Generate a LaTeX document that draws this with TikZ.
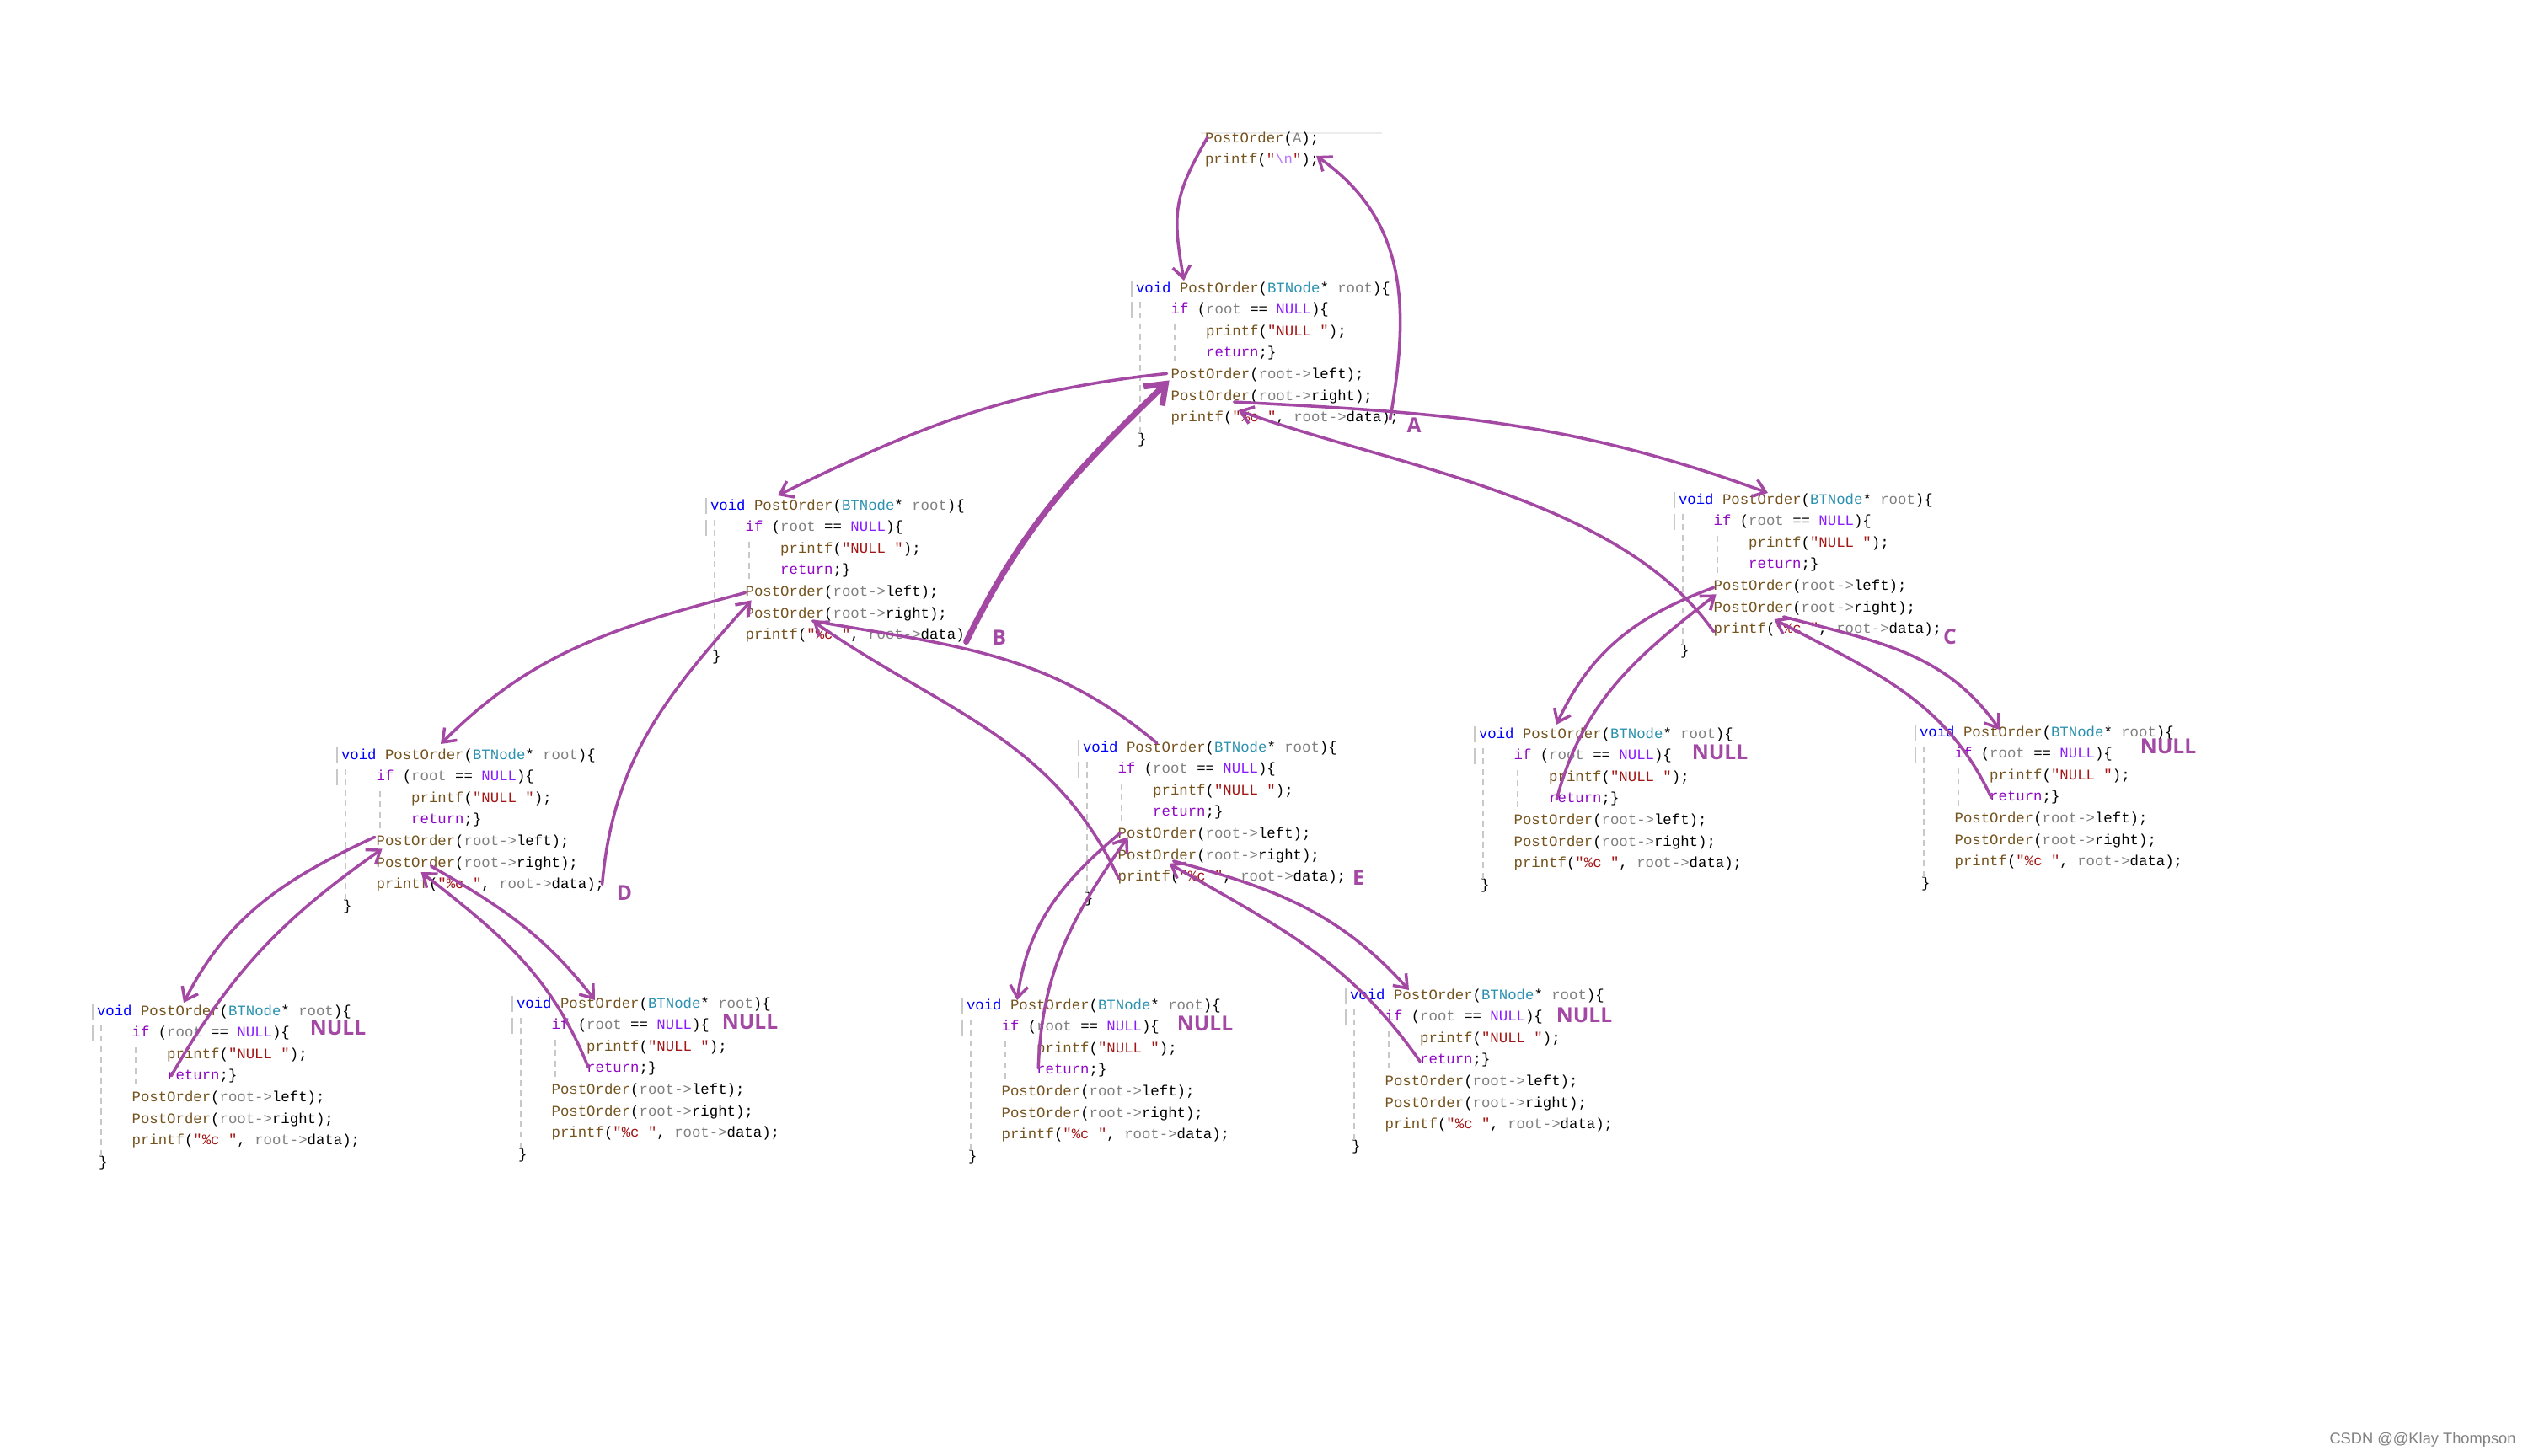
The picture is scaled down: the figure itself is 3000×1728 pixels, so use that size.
\documentclass[tikz,border=0pt]{standalone}
\usepackage{fontspec}
\newfontfamily\codefont{Liberation Mono}
\newfontfamily\markfont{Open Sans}
\newfontfamily\wmfont{Liberation Sans}
\usetikzlibrary{arrows.meta,calc}

\definecolor{kwblue}{HTML}{0000FF}
\definecolor{fnbrown}{HTML}{74531F}
\definecolor{tyteal}{HTML}{2B91AF}
\definecolor{pagrey}{HTML}{808080}
\definecolor{ctlpurple}{HTML}{8F08C4}
\definecolor{macviolet}{HTML}{8A1BFF}
\definecolor{strred}{HTML}{A31515}
\definecolor{escviolet}{HTML}{B776FB}
\definecolor{penpurple}{HTML}{A349A4}
\definecolor{guidegrey}{HTML}{C8C8C8}

\newcommand{\ckw}[1]{\textcolor{kwblue}{#1}}
\newcommand{\cfn}[1]{\textcolor{fnbrown}{#1}}
\newcommand{\cty}[1]{\textcolor{tyteal}{#1}}
\newcommand{\cpar}[1]{\textcolor{pagrey}{#1}}
\newcommand{\cctl}[1]{\textcolor{ctlpurple}{#1}}
\newcommand{\cmac}[1]{\textcolor{macviolet}{#1}}
\newcommand{\cstr}[1]{\textcolor{strred}{#1}}
\newcommand{\cesc}[1]{\textcolor{escviolet}{#1}}

% one copy of the function body, lines named #1-1 ... #1-8
\newcommand{\codeblock}[3]{%
  \node[codeline] (#1-1) at ({#2},{-#3}) {\ckw{void} \cfn{PostOrder}(\cty{BTNode}* \cpar{root})\{};
  \node[codeline] (#1-2) at ({#2+41.6},{-#3-25.6}) {\cctl{if} (\cpar{root} == \cmac{NULL})\{};
  \node[codeline] (#1-3) at ({#2+83.2},{-#3-51.2}) {\cfn{printf}(\cstr{"NULL "});};
  \node[codeline] (#1-4) at ({#2+83.2},{-#3-76.8}) {\cctl{return};\}};
  \node[codeline] (#1-5) at ({#2+41.6},{-#3-102.4}) {\cfn{PostOrder}(\cpar{root->}left);};
  \node[codeline] (#1-6) at ({#2+41.6},{-#3-128}) {\cfn{PostOrder}(\cpar{root->}right);};
  \node[codeline] (#1-7) at ({#2+41.6},{-#3-153.6}) {\cfn{printf}(\cstr{"\%c "}, \cpar{root->}data);};
  \node[codeline] (#1-8) at ({#2+2},{-#3-179.2}) {\}};
  \draw[guide] ({#2-5},{-#3+10}) -- ({#2-5},{-#3-9});
  \draw[guide] ({#2-5},{-#3-16}) -- ({#2-5},{-#3-35});
  \draw[guide, dash pattern=on 2pt off 1.5pt] ({#2+5},{-#3-16}) -- ({#2+5},{-#3-172});
  \draw[guide, dash pattern=on 2pt off 1.5pt] ({#2+46},{-#3-42}) -- ({#2+46},{-#3-88});
}

\begin{document}
\begin{tikzpicture}[x=0.01cm, y=0.01cm,
  >={Straight Barb[length=4pt,width=6pt]},
  codeline/.style={anchor=west, inner sep=0pt, outer sep=0pt,
    font=\codefont\fontsize{4.93pt}{6pt}\selectfont, text height=3.4pt, text depth=1.1pt},
  guide/.style={draw=guidegrey, line width=0.4pt},
  arr/.style={draw=penpurple, line width=1pt, line cap=round, line join=round, ->},
  penlabel/.style={text=penpurple, inner sep=0pt, font=\markfont\bfseries\fontsize{7pt}{8pt}\selectfont}]
\useasboundingbox (0,0) rectangle (3000,-1728);

% the call in main
\draw[gray!15, line width=0.4pt] (1425,-158) -- (1640,-158);
\node[codeline] (main-1) at (1430,-165) {\cfn{PostOrder}(\cpar{A});};
\node[codeline] (main-2) at (1430,-190) {\cfn{printf}(\cstr{"}\cesc{\textbackslash n}\cstr{"});};

% recursion tree
\codeblock{A}{1348}{343}
\codeblock{B}{843}{601}
\codeblock{C}{1992}{594}
\codeblock{D}{405}{897}
\codeblock{E}{1285}{888}
\codeblock{DL}{115}{1201}
\codeblock{DR}{613}{1192}
\codeblock{EL}{1147}{1194}
\codeblock{ER}{1602}{1182}
\codeblock{CL}{1755}{872}
\codeblock{CR}{2278}{870}

% labels
\node[penlabel] (labA) at (1678,-505) {A};
\node[penlabel] (labB) at (1186,-757) {B};
\node[penlabel] (labC) at (2314,-756) {C};
\node[penlabel] (labD) at (741,-1060) {D};
\node[penlabel] (labE) at (1612,-1042) {E};
\node[penlabel] (nullDL) at (401,-1220) {NULL};
\node[penlabel] (nullDR) at (890,-1213) {NULL};
\node[penlabel] (nullEL) at (1430,-1215) {NULL};
\node[penlabel] (nullER) at (1880,-1205) {NULL};
\node[penlabel] (nullCL) at (2041,-893) {NULL};
\node[penlabel] (nullCR) at (2573,-886) {NULL};

% main <-> A
\draw[arr] ($(main-1.west)+(3,2)$) to[out=-120,in=100,looseness=1.2] ($(A-1.west)+(57,10)$);
\draw[arr] ($(A-7.west)+(260,-1)$) to[out=80,in=-35,looseness=1.05] ($(main-2.west)+(132,5)$);
% A <-> B
\draw[arr] ($(A-5.west)+(-5,2)$) to[out=186,in=26] ($(B-1.west)+(80,13)$);
\draw[arr, line width=2pt, -{Straight Barb[length=6pt,width=9pt]}] ($(B-7.west)+(262,-7)$) to[out=64,in=224] ($(A-5.west)+(-2,-6)$);
% A <-> C
\draw[arr] ($(A-6.west)+(75,-6)$) to[out=-3,in=160] ($(C-1.west)+(106,9)$);
\draw[arr] ($(C-7.west)+(0,-2)$) to[out=125,in=-20,looseness=0.8] ($(A-6.west)+(80,-16)$);
% C <-> its children
\draw[arr] ($(C-5.west)+(0,-1)$) to[out=200,in=65] ($(CL-1.west)+(92,12)$);
\draw[arr] ($(CL-4.west)+(9,0)$) to[out=75,in=218] ($(C-5.west)+(3,-9)$);
\draw[arr] ($(C-6.west)+(83,-10)$) to[out=-15,in=125] ($(CR-1.west)+(95,4)$);
\draw[arr] ($(CR-4.west)+(2,0)$) to[out=115,in=-28] ($(C-6.west)+(72,-13)$);
% B <-> D
\draw[arr] (B-5.west) to[out=195,in=45] ($(D-1.west)+(118,14)$);
\draw[arr] ($(D-7.west)+(268,1)$) to[out=85,in=228] ($(B-5.west)+(7,-9)$);
% B <-> E
\draw[arr, -] ($(B-6.west)+(80,-8)$) to[out=-10,in=140] ($(E-1.west)+(88,6)$);
\draw[arr] ($(E-7.west)+(1,-1)$) to[out=115,in=-35] ($(B-6.west)+(80,-8)$);
% E <-> its children
\draw[arr] ($(E-5.west)+(3,2)$) to[out=220,in=82] ($(EL-1.west)+(60,7)$);
\draw[arr] ($(EL-4.west)+(2,3)$) to[out=88,in=235] ($(E-5.west)+(12,-3)$);
\draw[arr] ($(E-6.west)+(66,-6)$) to[out=-15,in=132] ($(ER-1.west)+(70,7)$);
\draw[arr] ($(ER-4.west)+(0,-1)$) to[out=125,in=-30] ($(E-6.west)+(61,-9)$);
% D <-> its children
\draw[arr] ($(D-5.west)+(-2,6)$) to[out=205,in=63] ($(DL-1.west)+(103,11)$);
\draw[arr] ($(DL-4.west)+(5,1)$) to[out=60,in=215] ($(D-5.west)+(7,-8)$);
\draw[arr] ($(D-6.west)+(65,-3)$) to[out=-30,in=128] ($(DR-1.west)+(93,5)$);
\draw[arr] ($(DR-4.west)+(2,2)$) to[out=112,in=-38] ($(D-6.west)+(53,-10)$);

\node[text=gray, inner sep=0pt, font=\wmfont\fontsize{5.2pt}{6pt}\selectfont] (wmark) at (2875,-1709) {CSDN @@Klay Thompson};
\end{tikzpicture}
\end{document}
